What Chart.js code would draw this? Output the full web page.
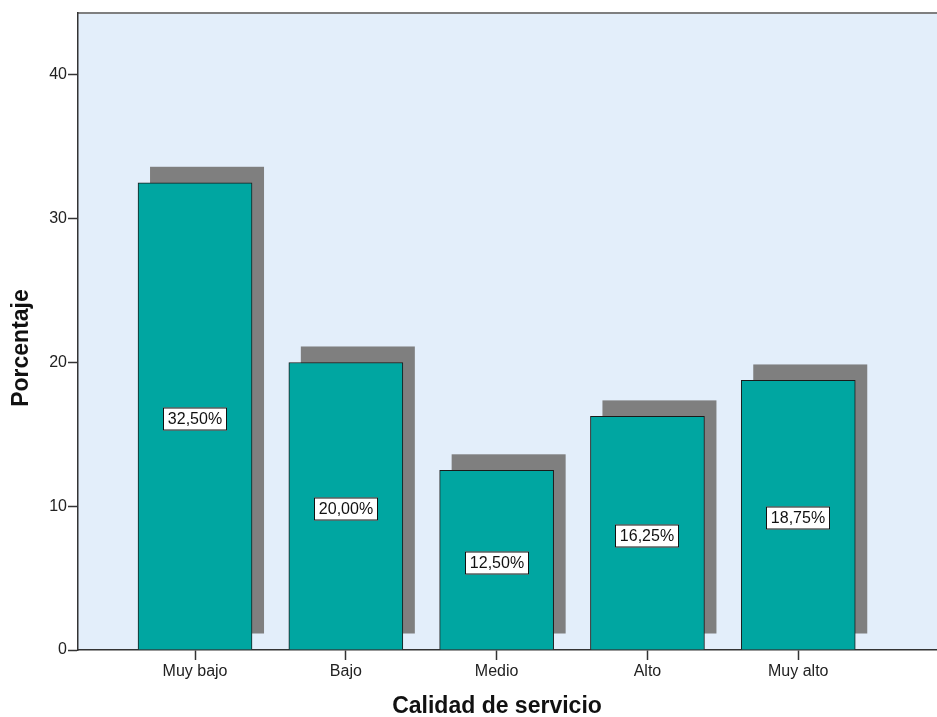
<!DOCTYPE html>
<html>
<head>
<meta charset="utf-8">
<script src="https://cdn.jsdelivr.net/npm/chart.js@4/dist/chart.umd.min.js"></script>
<style>
  html, body { margin: 0; padding: 0; background: #fff; }
  #wrap { width: 937px; height: 717px; position: relative; }
</style>
</head>
<body>
<div id="wrap"><canvas id="chart"></canvas></div>
<script>
/* ── Data ─────────────────────────────────────────────────────── */
const CATEGORIES = ['Muy bajo', 'Bajo', 'Medio', 'Alto', 'Muy alto'];
const PERCENTS   = [32.50, 20.00, 12.50, 16.25, 18.75];
const Y_TICKS    = [0, 10, 20, 30, 40];
const X_TITLE    = 'Calidad de servicio';
const Y_TITLE    = 'Porcentaje';

const FONT = "Arial, 'Liberation Sans', sans-serif";

/* ── Plot background + top frame line ─────────────────────────── */
const frame = {
  id: 'frame',
  beforeDraw(chart) {
    const { ctx, chartArea: a } = chart;
    ctx.save();
    ctx.fillStyle = '#e3eefa';
    ctx.fillRect(a.left, a.top, a.right - a.left, a.bottom - a.top);
    ctx.strokeStyle = '#7f7f7f';
    ctx.lineWidth = 2;
    ctx.beginPath();
    ctx.moveTo(a.left, a.top);
    ctx.lineTo(a.right, a.top);
    ctx.stroke();
    ctx.restore();
  },
};

/* ── Drop shadow behind each bar ──────────────────────────────── */
const shadow = {
  id: 'shadow',
  beforeDatasetsDraw(chart) {
    const { ctx } = chart;
    ctx.save();
    ctx.fillStyle = '#7f7f7f';
    chart.getDatasetMeta(0).data.forEach(bar => {
      const w = bar.width;
      ctx.fillRect(bar.x - w / 2 + 12, bar.y - 16, w, bar.base - bar.y);
    });
    ctx.restore();
  },
};

/* ── Boxed percentage labels in the middle of each bar ────────── */
const boxLabels = {
  id: 'boxLabels',
  afterDatasetsDraw(chart) {
    const { ctx } = chart;
    ctx.save();
    ctx.font = '16px ' + FONT;
    ctx.textAlign = 'center';
    ctx.textBaseline = 'middle';
    chart.getDatasetMeta(0).data.forEach((bar, i) => {
      const txt = PERCENTS[i].toFixed(2).replace('.', ',') + '%';
      const w = Math.round(ctx.measureText(txt).width) + 10;
      const h = 23;
      const cx = Math.round(bar.x);
      const cy = Math.round((bar.y + bar.base) / 2) + 3;
      ctx.fillStyle = '#fff';
      ctx.fillRect(cx - w / 2, cy - h / 2, w, h);
      ctx.strokeStyle = '#111';
      ctx.lineWidth = 1;
      ctx.strokeRect(cx - w / 2 + 0.5, cy - h / 2 + 0.5, w - 1, h - 1);
      ctx.fillStyle = '#111';
      ctx.fillText(txt, cx, cy + 1);
    });
    ctx.restore();
  },
};

/* ── Axis titles ──────────────────────────────────────────────── */
const axisTitles = {
  id: 'axisTitles',
  afterDraw(chart) {
    const { ctx } = chart;
    ctx.save();
    ctx.fillStyle = '#111';
    ctx.font = 'bold 23px ' + FONT;
    ctx.textAlign = 'center';
    ctx.textBaseline = 'middle';
    ctx.fillText(X_TITLE, 497, 707);
    ctx.translate(22, 348);
    ctx.rotate(-Math.PI / 2);
    ctx.fillText(Y_TITLE, 0, 0);
    ctx.restore();
  },
};

/* ── Chart ────────────────────────────────────────────────────── */
new Chart(document.getElementById('chart'), {
  type: 'bar',
  data: {
    datasets: [{
      data: PERCENTS.map((v, i) => ({ x: i, y: v })),
      backgroundColor: '#00a6a1',
      borderColor: '#1a1a1a',
      borderWidth: 1,
      borderSkipped: 'start',
      barThickness: 114,
    }],
  },
  options: {
    responsive: true,
    maintainAspectRatio: false,
    animation: false,
    layout: { padding: { top: 13, right: 0, left: 0, bottom: 0 } },
    plugins: { legend: { display: false }, tooltip: { enabled: false } },
    scales: {
      x: {
        type: 'linear',
        min: -0.776,
        max: 4.92,
        offset: false,
        afterBuildTicks: s => { s.ticks = CATEGORIES.map((_, i) => ({ value: i })); },
        afterFit: s => { s.height = 67; },
        ticks: {
          callback: v => CATEGORIES[v],
          color: '#222',
          font: { family: FONT, size: 16 },
          padding: 2,
          maxRotation: 0,
          autoSkip: false,
        },
        grid: { offset: false, drawOnChartArea: false, tickLength: 10, tickColor: '#333', tickWidth: 1.5 },
        border: { color: '#333', width: 1.5 },
      },
      y: {
        min: 0,
        max: 44.31,
        afterBuildTicks: s => { s.ticks = Y_TICKS.map(v => ({ value: v })); },
        afterFit: s => { s.width = 78; },
        ticks: {
          color: '#222',
          font: { family: FONT, size: 16 },
          padding: 1,
          includeBounds: false,
        },
        grid: { drawOnChartArea: false, tickLength: 10, tickColor: '#333', tickWidth: 1.5 },
        border: { color: '#333', width: 1.5 },
      },
    },
  },
  plugins: [frame, shadow, boxLabels, axisTitles],
});
</script>
</body>
</html>
